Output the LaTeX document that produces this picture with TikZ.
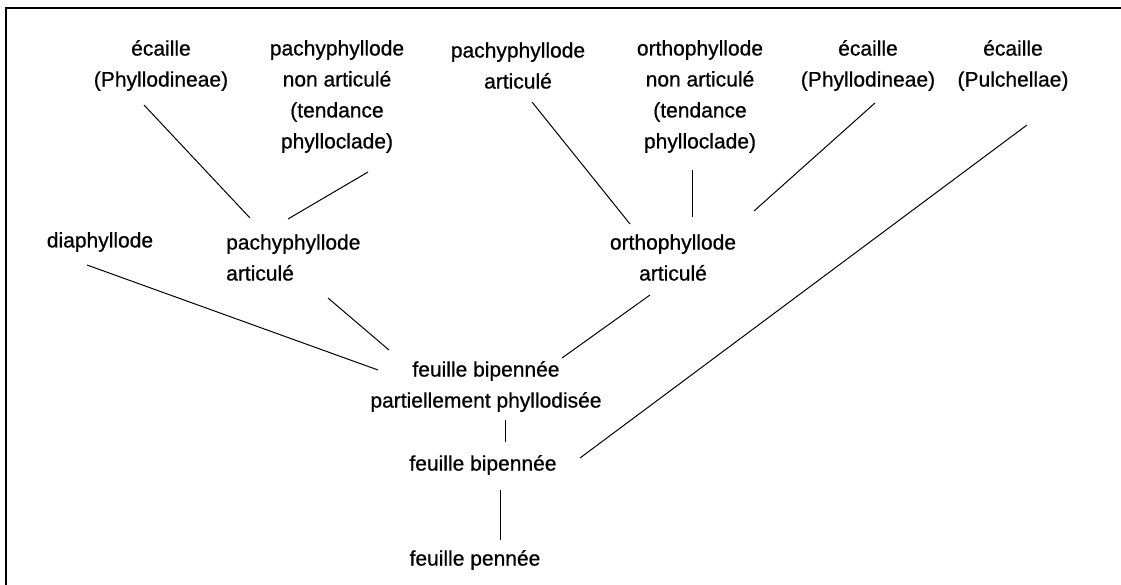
\documentclass[tikz,border=0pt]{standalone}
\usepackage{fontspec}
\setmainfont{Liberation Sans}
\usetikzlibrary{calc}

\tikzset{
  taxon/.style={inner sep=0pt, align=center, font=\fontsize{21}{31}\selectfont\addfontfeature{FakeBold=0.7}},
  link/.style={line width=1pt}
}

\begin{document}
\begin{tikzpicture}[x=1pt, y=-1pt]

    \useasboundingbox (0,0) rectangle (1121,585);

    % Frame (top and left only)
    \draw[line width=1.8pt] (1121,8) -- (6,8) -- (6,585);

    % Top row
    \node[taxon] (ecPhL) at (161,65.5) {écaille\\(Phyllodineae)};
    \node[taxon] (pachyNA) at (337,96.5) {pachyphyllode\\non articulé\\(tendance\\phylloclade)};
    \node[taxon] (pachyAT) at (518,65.5) {pachyphyllode\\articulé};
    \node[taxon] (orthoNA) at (700,96.5) {orthophyllode\\non articulé\\(tendance\\phylloclade)};
    \node[taxon] (ecPhR) at (868,65.5) {écaille\\(Phyllodineae)};
    \node[taxon] (ecPu) at (1013,65.5) {écaille\\(Pulchellae)};

    % Middle row
    \node[taxon] (diaph) at (100,242) {diaphyllode};
    \node[taxon, align=left, anchor=west] (pachy) at (226,257.5) {pachyphyllode\\articulé};
    \node[taxon] (ortho) at (673,257.5) {orthophyllode\\articulé};

    % Leaves
    \node[taxon] (bipP) at (486,386.5) {feuille bipennée\\partiellement phyllodisée};
    \node[taxon] (bip) at (483,465) {feuille bipennée};
    \node[taxon] (penn) at (475,560) {feuille pennée};

    % Links
    \draw[link] ($(ecPhL)+(-17,39.5)$) -- ($(pachy.west)+(24,-39.5)$);
    \draw[link] ($(pachyNA)+(31,75.5)$) -- ($(pachy.west)+(62,-38.5)$);
    \draw[link] ($(pachyAT)+(14,36.5)$) -- ($(ortho)+(-43,-33.5)$);
    \draw[link] ($(orthoNA)+(-8,73.5)$) -- ($(ortho)+(19,-40.5)$);
    \draw[link] ($(ecPhR)+(7,37.5)$) -- ($(ortho)+(81,-46.5)$);
    \draw[link] ($(ecPu)+(14,59.5)$) -- ($(bip)+(97,-7)$);
    \draw[link] ($(diaph)+(-13,23)$) -- ($(bipP)+(-108,-16.5)$);
    \draw[link] ($(pachy.west)+(102,40.5)$) -- ($(bipP)+(-97,-36.5)$);
    \draw[link] ($(ortho)+(-23,37.5)$) -- ($(bipP)+(76,-28.5)$);
    \draw[link] ($(bipP)+(19,33.5)$) -- ($(bip)+(22,-23)$);
    \draw[link] ($(bip)+(17,25)$) -- ($(penn)+(25,-20)$);

\end{tikzpicture}
\end{document}
